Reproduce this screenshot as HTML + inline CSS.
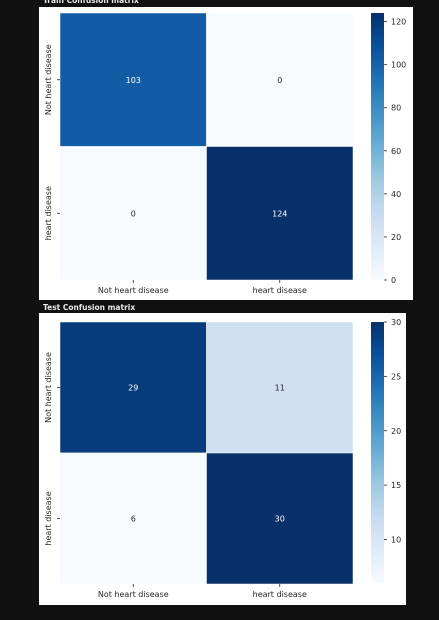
<!DOCTYPE html>
<html><head><meta charset="utf-8"><style>
html,body{margin:0;padding:0;background:#111111;width:439px;height:620px;overflow:hidden}
svg{display:block}
text{font-family:"DejaVu Sans","Liberation Sans",sans-serif}
</style></head><body>
<svg id="s" width="439" height="620" viewBox="0 0 439 620">
<defs>
<linearGradient id="blues" x1="0" y1="1" x2="0" y2="0">
<stop offset="0" stop-color="#f7fbff"/><stop offset="0.125" stop-color="#deebf7"/><stop offset="0.25" stop-color="#c6dbef"/><stop offset="0.375" stop-color="#9ecae1"/><stop offset="0.5" stop-color="#6baed6"/><stop offset="0.625" stop-color="#4292c6"/><stop offset="0.75" stop-color="#2171b5"/><stop offset="0.875" stop-color="#08519c"/><stop offset="1" stop-color="#08306b"/>
</linearGradient>
</defs>
<text x="43" y="3" font-family="DejaVu Sans Mono,Liberation Mono,monospace" font-size="7.5" font-weight="bold" fill="#e8e8e8">Train Confusion matrix</text>
<text x="43" y="310" font-family="DejaVu Sans Mono,Liberation Mono,monospace" font-size="7.5" font-weight="bold" fill="#e8e8e8">Test Confusion matrix</text>
</svg>
<script>
const labels=["Not heart disease","heart disease"];
const trainValues=[[103,0],[0,124]];
const testValues=[[29,11],[6,30]];
const trainTicks=[0,20,40,60,80,100,120];
const testTicks=[10,15,20,25,30];
const stops=["#f7fbff","#deebf7","#c6dbef","#9ecae1","#6baed6","#4292c6","#2171b5","#08519c","#08306b"];
function hex(h){return [1,3,5].map(i=>parseInt(h.substr(i,2),16));}
function blues(t){t=Math.max(0,Math.min(1,t));const p=t*8,i=Math.min(7,Math.floor(p)),f=p-i;const a=hex(stops[i]),b=hex(stops[i+1]);return "rgb("+a.map((v,k)=>Math.round(v+(b[k]-v)*f)).join(",")+")";}
const svg=document.getElementById('s');const NS="http://www.w3.org/2000/svg";
function el(t,a,p){const e=document.createElementNS(NS,t);for(const k in a)e.setAttribute(k,a[k]);(p||svg).appendChild(e);return e;}
function panel(name,vals,ticks,P){
  const g=el('g',{});
  
  
  el('rect',{x:P.px,y:P.py,width:P.pw,height:P.ph,fill:'#ffffff'},g);
  const flat=vals.flat();const vmin=Math.min(...flat),vmax=Math.max(...flat);
  const cw=(P.x1-P.x0)/2,ch=(P.y1-P.y0)/2;
  for(let r=0;r<2;r++)for(let c=0;c<2;c++){
    const v=vals[r][c];const t=(v-vmin)/(vmax-vmin);
    const rc=el('rect',{x:P.x0+c*cw,y:P.y0+r*ch,width:cw,height:ch,fill:blues(t),stroke:'#ffffff','stroke-width':0.5},g);
    
    
    const tx=el('text',{x:P.x0+c*cw+cw/2,y:P.y0+r*ch+ch/2+3,'text-anchor':'middle','font-size':8,fill:t>0.5?'#ffffff':'#262626'},g);
    tx.textContent=v;
    
    
  }
  for(let i=0;i<2;i++){
    const cx=P.x0+i*cw+cw/2;
    el('line',{x1:cx,y1:P.y1,x2:cx,y2:P.y1+3,stroke:'#262626','stroke-width':0.8},g);
    const xl=el('text',{x:cx,y:P.y1+13,'text-anchor':'middle','font-size':8,fill:'#262626'},g);
    xl.textContent=labels[i];
    
    
    const cy=P.y0+i*ch+ch/2;
    el('line',{x1:P.x0-3,y1:cy,x2:P.x0,y2:cy,stroke:'#262626','stroke-width':0.8},g);
    const yl=el('text',{x:0,y:0,'text-anchor':'middle','font-size':8,fill:'#262626',transform:'translate('+(P.x0-9)+','+cy+') rotate(-90)'},g);
    yl.textContent=labels[i];
    
    
  }
  const cb=el('rect',{x:371,y:P.cy0,width:13,height:P.cy1-P.cy0,fill:'url(#blues)'},g);
  
  
  const yS=v=>P.cy1-(v-vmin)/(vmax-vmin)*(P.cy1-P.cy0);
  ticks.forEach(v=>{const y=yS(v);
    el('line',{x1:384,y1:y,x2:387,y2:y,stroke:'#262626','stroke-width':0.8},g);
    const tt=el('text',{x:391,y:y+3,'font-size':8,fill:'#262626'},g);
    tt.textContent=v;
    
    
  });
}
panel('train',trainValues,trainTicks,{px:39,py:7,pw:374,ph:293,x0:60,x1:353,y0:13,y1:280,cy0:13,cy1:280});
panel('test',testValues,testTicks,{px:39,py:313,pw:367,ph:292,x0:60,x1:353,y0:322,y1:584,cy0:322,cy1:583});
</script>
</body></html>
